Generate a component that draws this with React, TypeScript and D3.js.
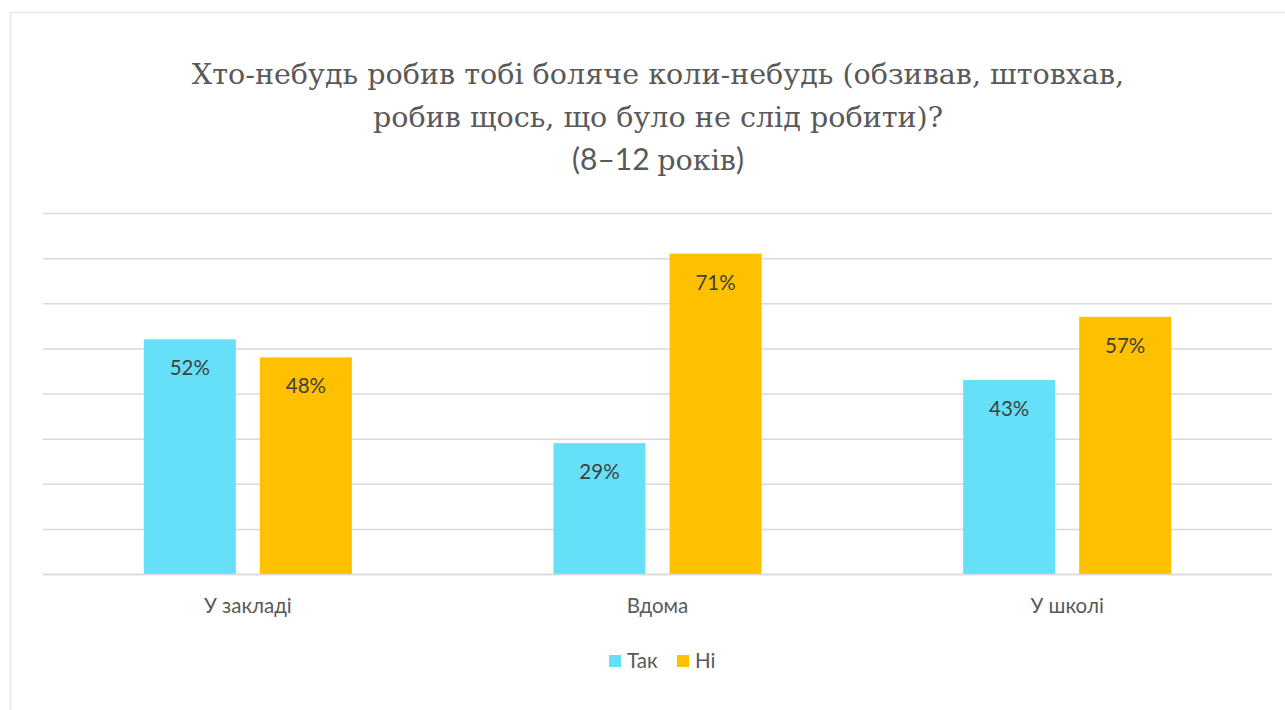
import { useEffect, useRef } from 'react'
import * as d3 from 'd3'

const CATEGORIES = ['У закладі', 'Вдома', 'У школі']
const SERIES = ['Так', 'Ні']
const YES_VALUES = [52, 29, 43]
const NO_VALUES = [48, 71, 57]
const Y_TICKS = [0, 10, 20, 30, 40, 50, 60, 70, 80]
const TITLE_LINES = [
  'Хто-небудь робив тобі боляче коли-небудь (обзивав, штовхав,',
  'робив щось, що було не слід робити)?',
]
const COLORS = ['#66E0F8', '#FFC000']

const SERIF = "'DejaVu Serif', 'Liberation Serif', serif"
const SANS = "Lato, 'Open Sans', sans-serif"

export default function App() {
  const ref = useRef<SVGSVGElement>(null)

  useEffect(() => {
    document.body.style.margin = '0'
    const width = 1285
    const height = 710
    const margin = { top: 213, right: 13, bottom: 136, left: 43 }
    const innerW = width - margin.left - margin.right
    const innerH = height - margin.top - margin.bottom

    const svg = d3.select(ref.current)
    svg.selectAll('*').remove()
    svg.attr('width', width).attr('height', height)

    svg.append('rect').attr('width', width).attr('height', height).attr('fill', '#fff')
    // outer chart border
    svg.append('path')
      .attr('d', `M10.5,${height} V12.5 H${width}`)
      .attr('fill', 'none')
      .attr('stroke', '#e6e6e6')
      .attr('stroke-width', 1.5)

    // title
    const title = svg.append('text')
      .attr('text-anchor', 'middle')
      .attr('fill', '#595959')
      .attr('font-family', SERIF)
      .attr('font-size', 28.6)
    TITLE_LINES.forEach((line, i) => {
      title.append('tspan').attr('x', 658).attr('y', 84 + i * 43).text(line)
    })
    const sub = svg.append('text')
      .attr('text-anchor', 'middle')
      .attr('fill', '#595959')
      .attr('font-size', 30)
      .attr('x', 658)
      .attr('y', 170)
    sub.append('tspan').attr('font-family', SANS).text('(8–12 ')
    sub.append('tspan').attr('font-family', SERIF).attr('font-size', 28.6).text('років')
    sub.append('tspan').attr('font-family', SANS).text(')')

    const g = svg.append('g').attr('transform', `translate(${margin.left},${margin.top})`)

    const y = d3.scaleLinear().domain([0, 80]).range([innerH, 0])
    const x0 = d3.scaleBand<string>()
      .domain(CATEGORIES)
      .range([0, innerW])
      .paddingInner(0.492)
      .paddingOuter(0.246)
    const x1 = d3.scaleBand<string>()
      .domain(SERIES)
      .range([0, x0.bandwidth()])
      .paddingInner(0.207)

    // gridlines
    g.append('g')
      .call(d3.axisLeft(y).tickValues(Y_TICKS).tickSize(-innerW).tickFormat(() => ''))
      .call(a => a.select('.domain').remove())
      .call(a => a.selectAll('line').attr('stroke', '#d9d9d9').attr('stroke-width', 1.5))

    const data = CATEGORIES.map((c, i) => ({
      category: c,
      values: [
        { series: SERIES[0], value: YES_VALUES[i], color: COLORS[0] },
        { series: SERIES[1], value: NO_VALUES[i], color: COLORS[1] },
      ],
    }))

    const groups = g.selectAll('.grp')
      .data(data)
      .join('g')
      .attr('transform', d => `translate(${x0(d.category)},0)`)

    groups.selectAll('rect')
      .data(d => d.values)
      .join('rect')
      .attr('x', d => x1(d.series)!)
      .attr('width', x1.bandwidth())
      .attr('y', d => y(d.value))
      .attr('height', d => innerH - y(d.value))
      .attr('fill', d => d.color)

    groups.selectAll('text')
      .data(d => d.values)
      .join('text')
      .attr('x', d => x1(d.series)! + x1.bandwidth() / 2)
      .attr('y', d => y(d.value) + 36)
      .attr('text-anchor', 'middle')
      .attr('font-family', SANS)
      .attr('font-size', 20.5)
      .attr('fill', '#404040')
      .text(d => `${d.value}%`)

    // x axis
    const xAxis = g.append('g')
      .attr('transform', `translate(0,${innerH})`)
      .call(d3.axisBottom(x0).tickSize(0).tickPadding(24))
    xAxis.select('.domain').attr('stroke', '#d9d9d9').attr('stroke-width', 1.5)
      .attr('d', `M0,0.5H${innerW}`)
    xAxis.selectAll('text')
      .attr('font-family', SANS)
      .attr('font-size', 20.5)
      .attr('fill', '#595959')

    // legend
    const legendItems = [
      { label: SERIES[0], color: COLORS[0], x: 609 },
      { label: SERIES[1], color: COLORS[1], x: 677 },
    ]
    const legend = svg.append('g')
    legendItems.forEach(it => {
      legend.append('rect')
        .attr('x', it.x).attr('y', 655).attr('width', 12).attr('height', 12)
        .attr('fill', it.color)
      legend.append('text')
        .attr('x', it.x + 18).attr('y', 668)
        .attr('font-family', SANS)
        .attr('font-size', 20.5)
        .attr('fill', '#595959')
        .text(it.label)
    })
  }, [])

  return <svg ref={ref} style={{ display: 'block' }} />
}
